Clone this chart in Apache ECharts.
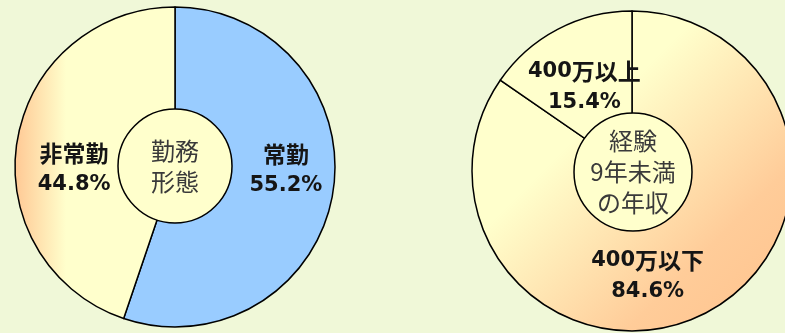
<!DOCTYPE html>
<html>
<head>
<meta charset="utf-8">
<script src="https://cdn.jsdelivr.net/npm/echarts@6/dist/echarts.min.js"></script>
<style>
html,body{margin:0;padding:0;background:#F0F8D8;}
#chart{width:785px;height:333px;}
</style>
</head>
<body>
<div id="chart"></div>
<script>
// ---- data ----
const workCategories = ['常勤', '非常勤'];
const workValues = [55.2, 44.8];
const incomeCategories = ['400万以下', '400万以上'];
const incomeValues = [84.6, 15.4];
const centerTitles = ['勤務\n形態', '経験\n9年未満\nの年収'];

// ---- styling ----
const LATIN = '"DejaVu Sans", sans-serif';
const CJK = '"Noto Sans CJK JP", "Noto Sans", sans-serif';
const BORDER = { borderColor: '#000', borderWidth: 1.5 };
const pale = '#FFFFCC';
const leftFill = [
  '#99CCFF',
  { type: 'linear', x: 0, y: 0, x2: 1, y2: 0,
    colorStops: [{ offset: 0, color: '#FFC894' }, { offset: 0.32, color: pale }, { offset: 1, color: pale }] }
];
const rightFill = [
  { type: 'linear', x: 0, y: 0, x2: 1, y2: 1,
    colorStops: [{ offset: 0, color: pale }, { offset: 0.36, color: pale }, { offset: 0.74, color: '#FFCC99' }, { offset: 1, color: '#FFC28C' }] },
  pale
];
const leftShift = [[29, -15], [-19, 11]];
const rightShift = [[-23, 27], [-9, -15]];

// wrap runs of latin chars and CJK chars in separate rich styles
function richify(s) {
  return s.replace(/([0-9.%]+)|([^0-9.%]+)/g, function (m, a, b) {
    return a ? '{d|' + a + '}' : '{k|' + b + '}';
  });
}

function mainPie(center, names, values, fills, shifts) {
  return {
    type: 'pie', center: center, radius: [0, 160], startAngle: 90, clockwise: true,
    silent: true, emphasis: { disabled: true },
    itemStyle: BORDER,
    label: {
      show: true, position: 'inside',
      formatter: function (p) { return richify(p.name) + '\n' + richify(p.value + '%'); },
      rich: {
        d: { fontFamily: LATIN, fontSize: 21, fontWeight: 'bold', color: '#151515', lineHeight: 31, verticalAlign: 'bottom' },
        k: { fontFamily: CJK, fontSize: 23, fontWeight: 'bold', color: '#151515', lineHeight: 31, verticalAlign: 'bottom' }
      }
    },
    labelLine: { show: false },
    labelLayout: function (p) { return { dx: shifts[p.dataIndex][0], dy: shifts[p.dataIndex][1] }; },
    data: names.map((n, i) => ({ name: n, value: values[i], itemStyle: { color: fills[i] } }))
  };
}
function centerDisk(center, r, title) {
  return {
    type: 'pie', center: center, radius: [0, r], silent: true, emphasis: { disabled: true },
    itemStyle: Object.assign({ color: pale }, BORDER),
    label: {
      show: true, position: 'center', formatter: title,
      fontFamily: CJK, fontSize: 24, fontWeight: 'normal', color: '#3a3a3a', lineHeight: 31
    },
    labelLine: { show: false },
    data: [{ name: 'c', value: 1 }]
  };
}

const chart = echarts.init(document.getElementById('chart'), null, { renderer: 'canvas' });
chart.setOption({
  backgroundColor: '#F0F8D8',
  animation: false,
  series: [
    mainPie([175, 167], workCategories, workValues, leftFill, leftShift),
    centerDisk([175, 166], 57, centerTitles[0]),
    mainPie([632, 171], incomeCategories, incomeValues, rightFill, rightShift),
    centerDisk([633, 172], 59, centerTitles[1])
  ]
});
</script>
</body>
</html>
